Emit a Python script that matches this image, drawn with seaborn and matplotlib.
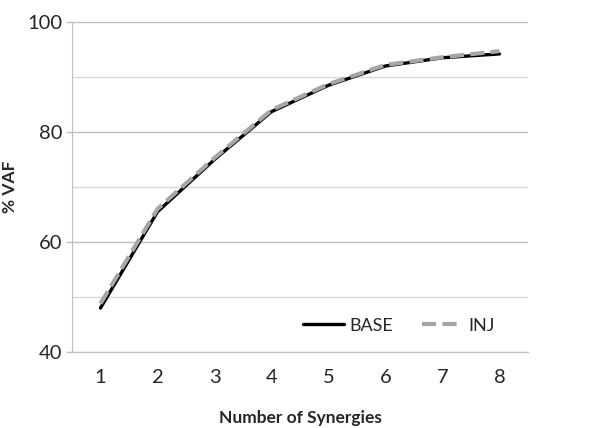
import matplotlib
matplotlib.use("Agg")
import matplotlib.pyplot as plt
import seaborn as sns
import pandas as pd
from matplotlib.ticker import MultipleLocator

synergies = [1, 2, 3, 4, 5, 6, 7, 8]
base_vaf = [48.0, 65.5, 75.0, 83.7, 88.5, 92.0, 93.5, 94.2]
inj_vaf = [48.8, 66.0, 75.3, 84.0, 88.7, 92.2, 93.6, 94.7]

sns.set_style("white")
plt.rcParams["font.family"] = ["Lato", "DejaVu Sans"]

fig = plt.figure(figsize=(6.05, 4.28), dpi=100)
ax = fig.add_axes([72 / 605, 1 - 352 / 428, (528 - 72) / 605, (352 - 22) / 428])

df = pd.DataFrame({"n": synergies, "BASE": base_vaf, "INJ": inj_vaf})

sns.lineplot(data=df, x="n", y="BASE", ax=ax, color="black", linewidth=2.4,
             label="BASE")
sns.lineplot(data=df, x="n", y="INJ", ax=ax, color="#A6A6A6", linewidth=3.0,
             linestyle=(0, (3.4, 1.5)), label="INJ")

ax.set_xlim(0.5, 8.5)
ax.set_ylim(40, 100)
ax.set_xticks(synergies)
ax.yaxis.set_major_locator(MultipleLocator(20))
ax.yaxis.set_minor_locator(MultipleLocator(10))
ax.grid(axis="y", which="major", color="#BFBFBF", linewidth=1.0)
ax.grid(axis="y", which="minor", color="#D9D9D9", linewidth=1.0)
ax.set_axisbelow(True)

for side in ("top", "right"):
    ax.spines[side].set_visible(False)
ax.spines["left"].set_color("#BFBFBF")
ax.spines["bottom"].set_color("#BFBFBF")

ax.tick_params(axis="y", which="major", left=True, length=4, width=1,
               color="#BFBFBF", labelsize=14.5, pad=3)
ax.tick_params(axis="y", which="minor", left=False)
ax.tick_params(axis="x", bottom=False, labelsize=14.5, pad=9)

ax.set_xlabel("Number of Synergies", fontsize=12.5, fontweight="bold", labelpad=17)
ax.set_ylabel("% VAF", fontsize=12.5, fontweight="bold")
ax.yaxis.set_label_coords(-0.118, 0.5)

ax.legend(loc="center left", bbox_to_anchor=(0.47, 0.08), ncol=2, frameon=False,
          fontsize=13, handlelength=2.3, handletextpad=0.28, columnspacing=1.6)

fig.savefig("out.png", dpi=100)
